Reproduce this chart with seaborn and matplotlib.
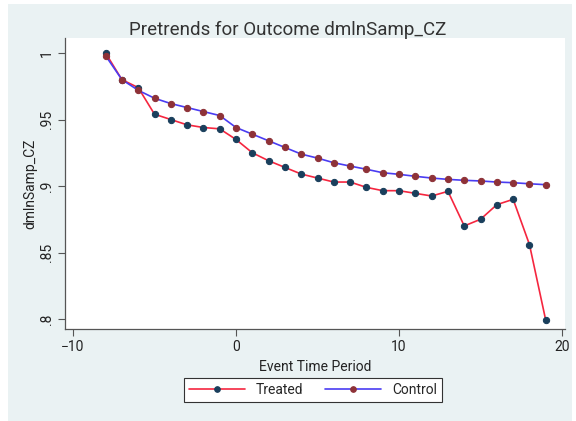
import numpy as np
import pandas as pd
import matplotlib
matplotlib.use("Agg")
import matplotlib.pyplot as plt
import seaborn as sns
from matplotlib.patches import Rectangle

# --- data ---
event_time = list(range(-8, 20))
treated = [1.000, 0.980, 0.974, 0.954, 0.950, 0.946, 0.944, 0.943, 0.935, 0.925,
           0.919, 0.914, 0.909, 0.906, 0.903, 0.903, 0.899, 0.8965, 0.8965, 0.8945,
           0.8925, 0.896, 0.870, 0.875, 0.886, 0.890, 0.856, 0.799]
control = [0.998, 0.980, 0.972, 0.966, 0.962, 0.959, 0.956, 0.953, 0.944, 0.939,
           0.934, 0.929, 0.924, 0.921, 0.9175, 0.915, 0.9126, 0.910, 0.9088, 0.9073,
           0.906, 0.905, 0.9043, 0.9038, 0.903, 0.9025, 0.9017, 0.901]
x_ticks = [-10, 0, 10, 20]
y_ticks = [0.8, 0.85, 0.9, 0.95, 1.0]
y_tick_labels = [".8", ".85", ".9", ".95", "1"]

df = pd.DataFrame({"t": event_time, "Treated": treated, "Control": control})

sns.set_theme(style="ticks")
plt.rcParams['font.family'] = ['Roboto', 'DejaVu Sans']

BG = "#eaf2f3"
fig = plt.figure(figsize=(5.76, 4.21), dpi=100, facecolor="white")
fig.patches.append(Rectangle((8 / 576, 0), 1 - 12 / 576, 1 - 4 / 421,
                             transform=fig.transFigure, facecolor=BG,
                             edgecolor="none", zorder=-10))
ax = fig.add_axes([65 / 576, 1 - 329 / 421, 500 / 576, 291 / 421])
ax.set_facecolor("white")

sns.lineplot(data=df, x="t", y="Treated", ax=ax, color="#f5263f", lw=1.2,
             marker="o", markersize=4.5, markerfacecolor="#1a3f5c",
             markeredgecolor="#1a3f5c", label="Treated")
sns.lineplot(data=df, x="t", y="Control", ax=ax, color="#4a3cf2", lw=1.2,
             marker="o", markersize=4.5, markerfacecolor="#8e3238",
             markeredgecolor="#8e3238", label="Control")

ax.set_xlim(-10.49, 20.18)
ax.set_ylim(0.7925, 1.0113)
ax.set_xticks(x_ticks)
ax.set_yticks(y_ticks)
ax.set_yticklabels(y_tick_labels, rotation=90, va="center")
ax.tick_params(axis="both", labelsize=10, length=5, width=0.8,
               color="#555555", labelcolor="#222222", pad=3)
for s in ["top", "right"]:
    ax.spines[s].set_visible(False)
for s in ["left", "bottom"]:
    ax.spines[s].set_color("#555555")
    ax.spines[s].set_linewidth(0.9)

ax.set_xlabel("Event Time Period", fontsize=10, color="#222222", labelpad=4)
ax.set_ylabel("dmlnSamp_CZ", fontsize=10, color="#222222", labelpad=2)
fig.text(0.5, 1 - 30 / 421, "Pretrends for Outcome dmlnSamp_CZ",
         ha="center", va="center", fontsize=13.5, color="#333333")

handles, labels = ax.get_legend_handles_labels()
ax.get_legend().remove()
leg = fig.legend(handles, labels, loc="center", ncol=2,
                 bbox_to_anchor=(313 / 576, 1 - 390 / 421), frameon=True,
                 fancybox=False, edgecolor="#333333", facecolor="white",
                 fontsize=10, handlelength=4.0, columnspacing=1.6,
                 borderpad=0.35, handletextpad=0.8, markerscale=0.9)
leg.get_frame().set_linewidth(0.8)
leg.get_frame().set_alpha(1)

fig.savefig("out.png", dpi=100, facecolor=fig.get_facecolor())
